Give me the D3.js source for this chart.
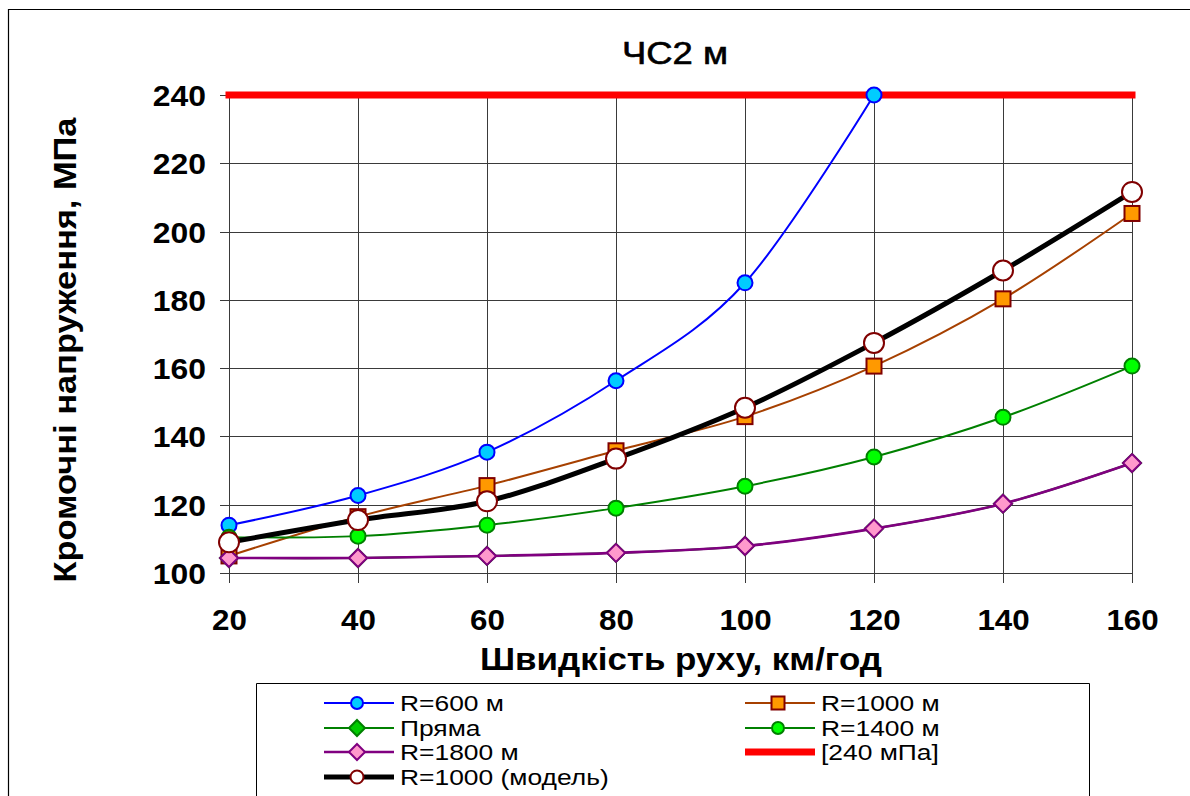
<!DOCTYPE html>
<html>
<head>
<meta charset="utf-8">
<script src="https://cdn.jsdelivr.net/npm/d3@7"></script>
<style>
  html, body { margin: 0; padding: 0; background: #fff; }
  svg { display: block; font-family: "Liberation Sans", Arial, sans-serif; }
</style>
</head>
<body>
<svg id="chart" width="1190" height="796"></svg>
<script>
// Speeds, km/h
const speeds = [20, 40, 60, 80, 100, 120, 140, 160];
// Edge stresses, MPa
const r600   = [114, 122.7, 135.4, 156.3, 185, 240];
const r1000  = [105, 116.5, 125.6, 135.8, 145.8, 160.6, 180.3, 205.3];
const pryama = [104.4, 104.4, 105, 105.9, 107.9, 113, 120.3, 132.2];
const r1400  = [110.5, 110.8, 114, 119, 125.4, 134, 145.6, 160.6];
const r1800  = [104.4, 104.4, 105, 105.9, 107.9, 113, 120.3, 132.2];
const model  = [109, 115.5, 121, 133.5, 148.4, 167.4, 188.6, 211.6];
const limitSpeeds = [20, 160];
const limitValues = [240, 240];

const xTicks = [20, 40, 60, 80, 100, 120, 140, 160];
const yTicks = [100, 120, 140, 160, 180, 200, 220, 240];

const titleText = "ЧС2 м";
const xTitle = "Швидкість руху, км/год";
const yTitle = "Кромочні напруження, МПа";

const svg = d3.select("#chart");
const FONT = '"Liberation Sans", Arial, sans-serif';

// outer chart frame (runs off the right and bottom edges)
svg.append("path")
  .attr("d", "M8.5,800 V9.5 H1200")
  .attr("fill", "none").attr("stroke", "#000").attr("stroke-width", 1.2);

const x = d3.scaleLinear().domain([20, 160]).range([229, 1132]);
const y = d3.scaleLinear().domain([100, 240]).range([573, 95]);

// stretch text horizontally by a factor
function stretch(sel, k) {
  sel.each(function () {
    const len = this.getComputedTextLength();
    d3.select(this).attr("textLength", len * k).attr("lengthAdjust", "spacingAndGlyphs");
  });
}
function fitWidth(sel, w) {
  sel.attr("textLength", w).attr("lengthAdjust", "spacingAndGlyphs");
}

// grid
const grid = svg.append("g").attr("shape-rendering", "crispEdges");
grid.selectAll("line.h").data(yTicks).join("line")
  .attr("x1", 220).attr("x2", x(160))
  .attr("y1", d => Math.round(y(d)) + 0.5).attr("y2", d => Math.round(y(d)) + 0.5)
  .attr("stroke", "#3a3a3a").attr("stroke-width", 1);
grid.selectAll("line.v").data(xTicks).join("line")
  .attr("x1", d => Math.round(x(d)) + 0.5).attr("x2", d => Math.round(x(d)) + 0.5)
  .attr("y1", y(240)).attr("y2", 583)
  .attr("stroke", "#3a3a3a").attr("stroke-width", 1);

// axes tick labels
const yAxis = d3.axisLeft(y).tickValues(yTicks).tickSize(0).tickPadding(0);
const gy = svg.append("g").attr("transform", "translate(206,0)").call(yAxis);
gy.select(".domain").remove();
gy.selectAll("text")
  .attr("font-family", FONT).attr("font-size", 29).attr("font-weight", "bold")
  .attr("fill", "#000").attr("dy", "0.36em").attr("x", 0);
stretch(gy.selectAll("text"), 1.1);

const xAxis = d3.axisBottom(x).tickValues(xTicks).tickSize(0).tickPadding(0);
const gx = svg.append("g").attr("transform", "translate(0,630)").call(xAxis);
gx.select(".domain").remove();
gx.selectAll("text")
  .attr("font-family", FONT).attr("font-size", 29).attr("font-weight", "bold")
  .attr("fill", "#000").attr("dy", 0).attr("y", 0);
stretch(gx.selectAll("text"), 1.08);

// titles
const tTitle = svg.append("text").text(titleText)
  .attr("x", 675).attr("y", 64).attr("text-anchor", "middle")
  .attr("font-size", 31).attr("font-weight", "normal").attr("fill", "#000")
  .attr("stroke", "#000").attr("stroke-width", 0.6);
fitWidth(tTitle, 106);

const tx = svg.append("text").text(xTitle)
  .attr("x", 681).attr("y", 670).attr("text-anchor", "middle")
  .attr("font-size", 32).attr("font-weight", "bold").attr("fill", "#000");
fitWidth(tx, 402);

const ty = svg.append("text").text(yTitle)
  .attr("transform", "translate(76,350) rotate(-90)").attr("text-anchor", "middle")
  .attr("font-size", 32).attr("font-weight", "bold").attr("fill", "#000");
fitWidth(ty, 465);

// series definitions
const series = [
  { name: "R=600 м",  values: r600,   line: "#0000FF", lw: 2,   marker: "circle",  fill: "#00CCFF", stroke: "#0000FF", size: 8.5 },
  { name: "R=1000 м", values: r1000,  line: "#A64000", lw: 2,   marker: "square",  fill: "#FF9900", stroke: "#800000", size: 8.5 },
  { name: "Пряма",    values: pryama, line: "#008000", lw: 2,   marker: "diamond", fill: "#00CC00", stroke: "#008000", size: 10 },
  { name: "R=1400 м", values: r1400,  line: "#008000", lw: 2,   marker: "circle",  fill: "#00FF00", stroke: "#008000", size: 8.5 },
  { name: "R=1800 м", values: r1800,  line: "#800080", lw: 2.6, marker: "diamond", fill: "#FF99CC", stroke: "#800080", size: 10 },
  { name: "[240 мПа]", values: limitValues, xs: limitSpeeds, line: "#FF0000", lw: 7, marker: null },
  { name: "R=1000 (модель)", values: model, line: "#000000", lw: 5, marker: "circle", fill: "#FFFFFF", stroke: "#800000", size: 11 }
];

function drawMarker(g, type, cx, cy, s, fill, stroke, sw) {
  if (type === "circle") {
    g.append("circle").attr("cx", cx).attr("cy", cy).attr("r", s - sw / 2)
      .attr("fill", fill).attr("stroke", stroke).attr("stroke-width", sw);
  } else if (type === "square") {
    const h = s - sw / 2;
    g.append("rect").attr("x", cx - h).attr("y", cy - h).attr("width", 2 * h).attr("height", 2 * h)
      .attr("fill", fill).attr("stroke", stroke).attr("stroke-width", sw);
  } else if (type === "diamond") {
    const h = s - sw / 2;
    g.append("path").attr("d", `M${cx},${cy - h} L${cx + h},${cy} L${cx},${cy + h} L${cx - h},${cy} Z`)
      .attr("fill", fill).attr("stroke", stroke).attr("stroke-width", sw).attr("stroke-linejoin", "miter");
  }
}

const plot = svg.append("g");
const lineGen = d3.line().x(d => x(d[0])).y(d => y(d[1])).curve(d3.curveCatmullRom.alpha(0));

// limit line first, then the curves in series order
const drawOrder = [5, 0, 1, 2, 3, 4, 6];
drawOrder.forEach(i => {
  const s = series[i];
  const xs = s.xs || speeds;
  const pts = s.values.map((v, j) => [xs[j], v]);
  const g = plot.append("g");
  g.append("path").datum(pts)
    .attr("d", s.marker ? lineGen : d3.line().x(d => x(d[0])).y(d => y(d[1])))
    .attr("fill", "none").attr("stroke", s.line).attr("stroke-width", s.lw)
    .attr("stroke-linecap", s.marker ? "round" : "square").attr("stroke-linejoin", "round");
  if (s.marker) {
    pts.forEach(p => drawMarker(g, s.marker, x(p[0]), y(p[1]), s.size, s.fill, s.stroke, 2));
  }
});

// legend
const leg = svg.append("g");
leg.append("path").attr("d", "M256.5,800 V683.5 H1089.5 V800")
  .attr("fill", "none").attr("stroke", "#000").attr("stroke-width", 1);
const rowsY = [703, 728, 752, 777];
const legendPos = [
  { col: 0, row: 0 }, { col: 1, row: 0 },
  { col: 0, row: 1 }, { col: 1, row: 1 },
  { col: 0, row: 2 }, { col: 1, row: 2 },
  { col: 0, row: 3 }
];
const colX = [324, 745];
const legendSize = { circle: 7, square: 7.5, diamond: 9 };
series.forEach((s, i) => {
  const p = legendPos[i];
  const x0 = colX[p.col], cy = rowsY[p.row];
  const g = leg.append("g");
  g.append("line").attr("x1", x0).attr("x2", x0 + 70).attr("y1", cy).attr("y2", cy)
    .attr("stroke", s.line).attr("stroke-width", s.lw);
  if (s.marker) {
    const sz = s.name === "R=1000 (модель)" ? 7.5 : legendSize[s.marker];
    drawMarker(g, s.marker, x0 + 33, cy, sz, s.fill, s.stroke, 2);
  }
  const t = g.append("text").text(s.name)
    .attr("x", x0 + 76).attr("y", cy).attr("dy", "0.36em")
    .attr("font-size", 22).attr("fill", "#000");
  stretch(t, 1.2);
});
</script>
</body>
</html>
